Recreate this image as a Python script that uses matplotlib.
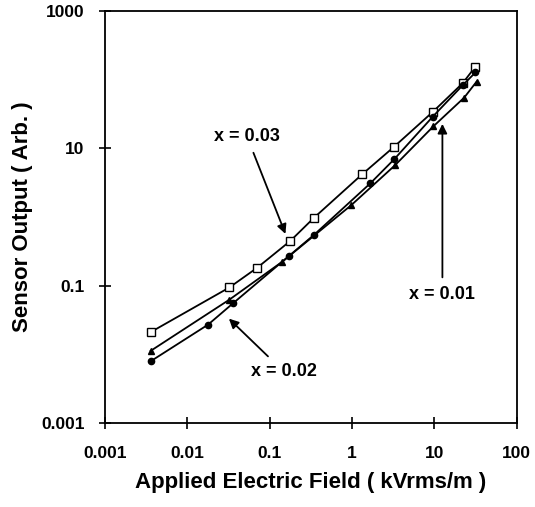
import matplotlib
matplotlib.use("Agg")
from matplotlib import pyplot as plt

plt.rcParams['font.family'] = ['Liberation Sans', 'DejaVu Sans']
plt.rcParams['font.weight'] = 'bold'

# x = 0.03 (open squares)
field_sq = [0.0036, 0.0325, 0.071, 0.179, 0.344, 1.33, 3.25, 9.55, 22.0, 31.5]
out_sq = [0.021, 0.094, 0.183, 0.45, 0.97, 4.2, 10.6, 34, 89, 156]

# x = 0.02 (filled circles)
field_ci = [0.0036, 0.0179, 0.0358, 0.174, 0.346, 1.67, 3.27, 9.55, 22.0, 31.5]
out_ci = [0.0079, 0.027, 0.055, 0.274, 0.55, 3.1, 7.0, 29, 83, 128]

# x = 0.01 (filled triangles)
field_tr = [0.0036, 0.0325, 0.143, 0.98, 3.31, 9.73, 23.0, 32.5]
out_tr = [0.0112, 0.0625, 0.224, 1.49, 5.65, 21, 55, 94]

fig = plt.figure(figsize=(5.35, 5.07), dpi=100)
ax = fig.add_axes([0.196, 0.166, 0.77, 0.812])

ax.plot(field_sq, out_sq, color='black', lw=1.3, marker='s', ms=6,
        mfc='white', mec='black', mew=1.0)
ax.plot(field_ci, out_ci, color='black', lw=1.3, marker='o', ms=4.5)
ax.plot(field_tr, out_tr, color='black', lw=1.3, marker='^', ms=5)

ax.set_xscale('log')
ax.set_yscale('log')
ax.set_xlim(0.001, 100)
ax.set_ylim(0.001, 1000)
ax.set_xticks([0.001, 0.01, 0.1, 1, 10, 100])
ax.set_xticklabels(['0.001', '0.01', '0.1', '1', '10', '100'])
ax.set_yticks([0.001, 0.1, 10, 1000])
ax.set_yticklabels(['0.001', '0.1', '10', '1000'])
ax.minorticks_off()
ax.tick_params(direction='inout', length=9, width=1.2, labelsize=12.5)
ax.tick_params(axis='x', pad=12)
ax.tick_params(axis='y', pad=10)
for s in ax.spines.values():
    s.set_linewidth(1.3)

ax.set_xlabel('Applied Electric Field ( kVrms/m )', fontsize=16, fontweight='bold', labelpad=8)
ax.set_ylabel('Sensor Output ( Arb. )', fontsize=16, fontweight='bold', labelpad=6)

arrow = dict(arrowstyle='-|>', color='black', lw=1.3, mutation_scale=14, shrinkA=4)
ax.annotate('x = 0.03', xy=(0.16, 0.52), xytext=(0.053, 15),
            fontsize=13, fontweight='bold', ha='center', va='center',
            arrowprops=arrow)
ax.annotate('x = 0.02', xy=(0.0303, 0.0352), xytext=(0.059, 0.0056),
            fontsize=13, fontweight='bold', ha='left', va='center',
            arrowprops=arrow)
ax.annotate('x = 0.01', xy=(12.5, 25), xytext=(12.5, 0.075),
            fontsize=13, fontweight='bold', ha='center', va='center',
            arrowprops=arrow)

fig.savefig('out.png', dpi=100)
